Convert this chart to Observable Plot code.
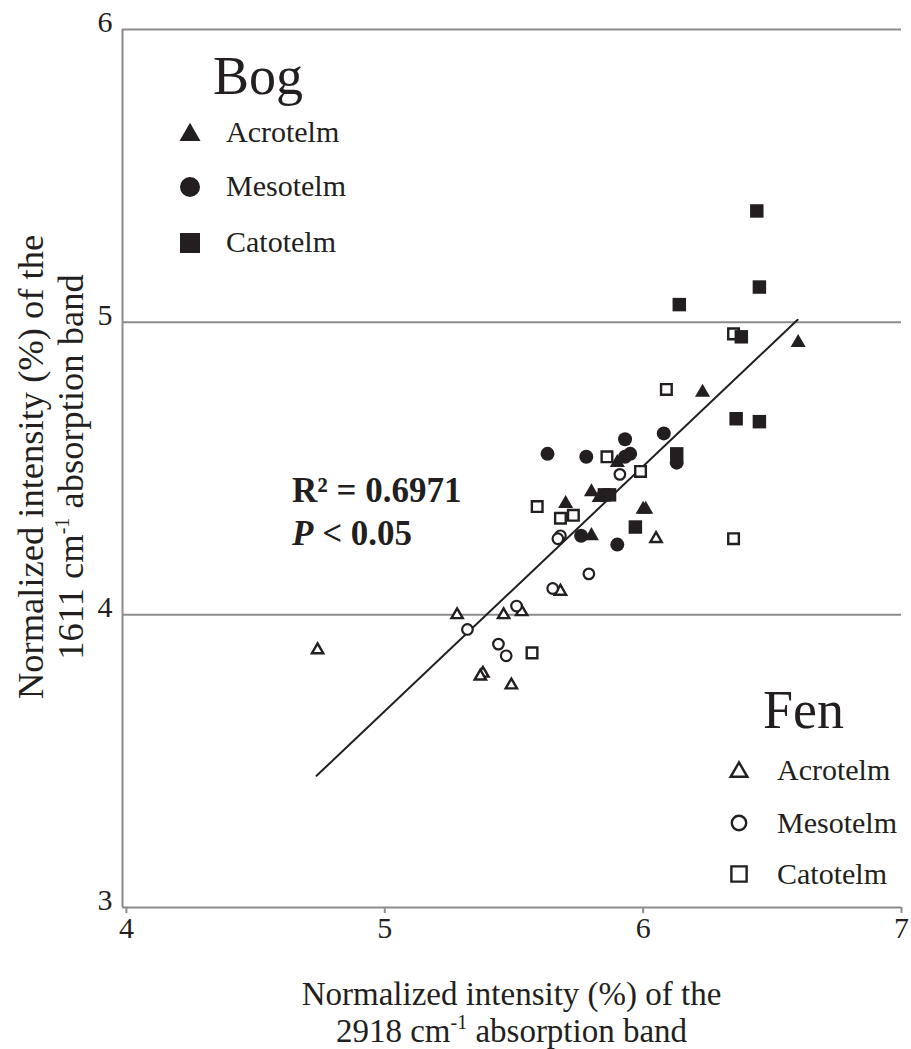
<!DOCTYPE html>
<html><head><meta charset="utf-8">
<script src="https://cdn.jsdelivr.net/npm/d3@7"></script>
<script src="https://cdn.jsdelivr.net/npm/@observablehq/plot@0.6"></script>
<style>
body{margin:0;background:#fff;}
#wrap{position:relative;width:911px;height:1049px;}
#wrap svg{position:absolute;left:0;top:0;}
</style></head><body><div id="wrap"></div>
<script>
// ---- data ----
const xDomain = [3.985, 7];
const yDomain = [3, 6];
const xTicks = [4, 5, 6, 7];
const yTicks = [3, 4, 5, 6];
const yGrid = [4, 5, 6];

const bogAcroX = [6.60, 6.23, 5.90, 5.70, 5.80, 5.83, 6.00, 6.01, 5.80];
const bogAcroY = [4.93, 4.76, 4.52, 4.38, 4.42, 4.40, 4.36, 4.36, 4.27];
const bogMesoX = [6.08, 5.93, 5.63, 5.78, 5.93, 5.95, 6.13, 5.90, 5.76];
const bogMesoY = [4.62, 4.60, 4.55, 4.54, 4.54, 4.55, 4.52, 4.24, 4.27];
const bogCatoX = [6.44, 6.45, 6.14, 6.38, 6.36, 6.45, 6.13, 5.85, 5.87, 5.97];
const bogCatoY = [5.38, 5.12, 5.06, 4.95, 4.67, 4.66, 4.55, 4.41, 4.41, 4.30];
const fenAcroX = [6.05, 5.68, 5.53, 5.46, 5.28, 4.74, 5.38, 5.37, 5.49];
const fenAcroY = [4.26, 4.08, 4.01, 4.00, 4.00, 3.88, 3.80, 3.79, 3.76];
const fenMesoX = [5.91, 5.68, 5.67, 5.79, 5.65, 5.51, 5.32, 5.44, 5.47];
const fenMesoY = [4.48, 4.27, 4.26, 4.14, 4.09, 4.03, 3.95, 3.90, 3.86];
const fenCatoX = [6.35, 6.09, 5.86, 5.99, 5.59, 5.68, 5.73, 6.35, 5.57];
const fenCatoY = [4.96, 4.77, 4.54, 4.49, 4.37, 4.33, 4.34, 4.26, 3.87];

const fitX = [4.736, 6.598];
const fitY = [3.450, 5.008];

const layers = ["Acrotelm", "Mesotelm", "Catotelm"];
const xTitle = ["Normalized intensity (%) of the", "2918 cm", "-1", " absorption band"];
const yTitle = ["Normalized intensity (%) of the", "1611 cm", "-1", " absorption band"];
const statR2 = "0.6971";
const statP = "0.05";

// ---- tables ----
const zip = (xs, ys) => xs.map((x, i) => ({x, y: ys[i]}));
const fit = zip(fitX, fitY);
const ink = "#231f20";
const grey = "#8c8c8c";
const font = "'Liberation Serif','Times New Roman',serif";

const plot = Plot.plot({
  width: 911, height: 1049,
  marginLeft: 122, marginRight: 10, marginTop: 29, marginBottom: 142,
  style: {fontFamily: font, fontSize: "30px", color: ink, background: "transparent"},
  x: {domain: xDomain},
  y: {domain: yDomain},
  marks: [
    Plot.ruleY(yGrid, {stroke: grey, strokeWidth: 2}),
    Plot.ruleX([xDomain[0]], {stroke: grey, strokeWidth: 2}),
    Plot.ruleY([yDomain[0]], {stroke: grey, strokeWidth: 2}),
    Plot.axisX(xTicks, {tickSize: 6, tickPadding: 3, stroke: grey, strokeWidth: 2, fill: ink, fontSize: 30, label: null, tickFormat: d => String(d)}),
    Plot.axisY(yTicks, {tickSize: 0, tickPadding: 10, dy: -7, fill: ink, fontSize: 30, label: null, tickFormat: d => String(d)}),
    Plot.line(fit, {x: "x", y: "y", stroke: ink, strokeWidth: 2}),
    Plot.dot(zip(fenAcroX, fenAcroY), {x: "x", y: "y", symbol: "triangle", r: 4.2, fill: "white", stroke: ink, strokeWidth: 2.4}),
    Plot.dot(zip(fenMesoX, fenMesoY), {x: "x", y: "y", symbol: "circle", r: 5.3, fill: "white", stroke: ink, strokeWidth: 2.2}),
    Plot.dot(zip(fenCatoX, fenCatoY), {x: "x", y: "y", symbol: "square", r: 6.0, fill: "white", stroke: ink, strokeWidth: 2.4}),
    Plot.dot(zip(bogAcroX, bogAcroY), {x: "x", y: "y", symbol: "triangle", r: 5.6, fill: ink, stroke: "none"}),
    Plot.dot(zip(bogMesoX, bogMesoY), {x: "x", y: "y", symbol: "circle", r: 7, fill: ink, stroke: "none"}),
    Plot.dot(zip(bogCatoX, bogCatoY), {x: "x", y: "y", symbol: "square", r: 7.6, fill: ink, stroke: "none"})
  ]
});
const wrap = document.getElementById("wrap");
wrap.appendChild(plot);

// ---- overlay: legends, statistics, axis titles ----
const ov = d3.select(wrap).append("svg")
  .attr("width", 911).attr("height", 1049)
  .style("font-family", font).style("fill", ink)
  .style("pointer-events", "none");

function icon(sym, r, filled, cx, cy) {
  ov.append("path")
    .attr("d", d3.symbol(sym, Math.PI * r * r)())
    .attr("transform", `translate(${cx},${cy})`)
    .attr("fill", filled ? ink : "white")
    .attr("stroke", filled ? "none" : ink)
    .attr("stroke-width", filled ? 0 : 2.4);
}
const syms = [d3.symbolTriangle, d3.symbolCircle, d3.symbolSquare];

// Bog legend
ov.append("text").attr("x", 213).attr("y", 94).attr("font-size", 54).text("Bog");
const bogR = [7.8, 10, 11.3];
const bogIconY = [135, 187, 243];
const bogTextY = [142, 196, 252];
layers.forEach((l, i) => {
  icon(syms[i], bogR[i], true, 190, bogIconY[i]);
  ov.append("text").attr("x", 226).attr("y", bogTextY[i]).attr("font-size", 30).text(l);
});

// Fen legend
ov.append("text").attr("x", 763).attr("y", 728).attr("font-size", 54).text("Fen");
const fenR = [6.2, 7.2, 8.6];
const fenIconY = [772, 823, 874];
const fenTextY = [780, 833, 884];
layers.forEach((l, i) => {
  icon(syms[i], fenR[i], false, 739, fenIconY[i]);
  ov.append("text").attr("x", 777).attr("y", fenTextY[i]).attr("font-size", 30).text(l);
});

// statistics
const st = ov.append("g").attr("font-weight", "bold").attr("font-size", 35);
st.append("text").attr("x", 292).attr("y", 502).text("R\u00B2 = " + statR2);
const pt = st.append("text").attr("x", 292).attr("y", 545);
pt.append("tspan").attr("font-style", "italic").text("P");
pt.append("tspan").text(" < " + statP);

// axis titles
function title(g, lines, baselines, sup) {
  g.append("text").attr("y", baselines[0]).attr("text-anchor", "middle").text(lines[0]);
  const t = g.append("text").attr("y", baselines[1]).attr("text-anchor", "middle");
  t.append("tspan").text(lines[1]);
  t.append("tspan").attr("dy", -sup).attr("font-size", 20).text(lines[2]);
  t.append("tspan").attr("dy", sup).text(lines[3]);
}
const gx = ov.append("g").attr("font-size", 33).attr("transform", "translate(511.5,0)");
title(gx, xTitle, [1005, 1042], 13);
const gy = ov.append("g").attr("font-size", 36.5).attr("transform", "translate(0,467) rotate(-90)");
title(gy, yTitle, [43, 83], 14);
</script></body></html>
